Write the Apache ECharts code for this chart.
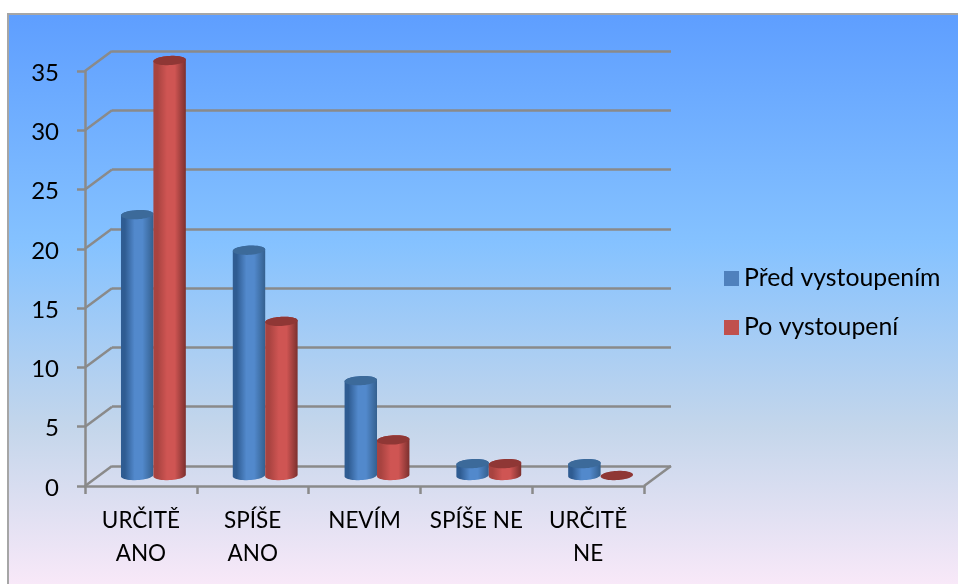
<!DOCTYPE html>
<html>
<head>
<meta charset="utf-8">
<style>html,body{margin:0;padding:0;background:#fff}#chart{width:958px;height:584px}</style>
<script src="https://cdn.jsdelivr.net/npm/echarts@6/dist/echarts.min.js"></script>
</head>
<body>
<div id="chart"></div>
<script>
// Survey answers before and after the talk
const categories = ['URČITĚ\nANO', 'SPÍŠE\nANO', 'NEVÍM', 'SPÍŠE NE', 'URČITĚ\nNE'];
const predVystoupenim = [22, 19, 8, 1, 1];
const poVystoupeni = [35, 13, 3, 1, 0];
const valueTicks = [0, 5, 10, 15, 20, 25, 30, 35];

// Oblique projection of the floor and back wall; cylinders stand mid-depth
const DEPTH_X = 27, DEPTH_Y = -20;
const CYL_DX = 12.5, CYL_DY = -10.5;
const AXIS_COLOR = '#8a8a8a';
const AXIS_WIDTH = 2.5;
const FONT = 'Lato';

const BLUE = { edgeL: '#2f5c92', mid: '#5289cc', edgeR: '#34608f', top: '#3c6a9a' };
const RED = { edgeL: '#a84340', mid: '#cf5553', edgeR: '#7c302e', top: '#8f3735' };

function cylinder(params, api, palette, side) {
  const i = api.value(0), v = api.value(1);
  const band = api.size([1, 0])[0];
  const w = band * 0.29, rx = w / 2, ry = 4.6, tilt = -0.05;
  const cx = api.coord([i, 0])[0] + side * rx + CYL_DX;
  const baseY = api.coord([i, 0])[1] + CYL_DY;
  const topY = api.coord([i, v])[1] + CYL_DY;
  const rim = (cy, a) => {
    const dx = rx * Math.cos(a);
    return [cx + dx, cy + ry * Math.sin(a) + dx * tilt];
  };
  const topPts = [], bodyPts = [];
  for (let k = 0; k <= 48; k++) topPts.push(rim(topY, (k / 48) * Math.PI * 2));
  // Front of the base runs right to left, then the far rim of the top closes the outline
  for (let k = 0; k <= 24; k++) bodyPts.push(rim(baseY, (k / 24) * Math.PI));
  for (let k = 0; k <= 24; k++) bodyPts.push(rim(topY, Math.PI + (k / 24) * Math.PI));
  const children = [];
  if (v > 0) {
    children.push({
      type: 'polygon',
      shape: { points: bodyPts },
      style: {
        fill: new echarts.graphic.LinearGradient(0, 0, 1, 0, [
          { offset: 0, color: palette.edgeL },
          { offset: 0.12, color: palette.edgeL },
          { offset: 0.42, color: palette.mid },
          { offset: 0.66, color: palette.mid },
          { offset: 1, color: palette.edgeR }
        ])
      }
    });
  }
  children.push({ type: 'polygon', shape: { points: topPts }, style: { fill: palette.top } });
  return { type: 'group', children };
}

// Slanted side-wall segments and the right edge of the floor
function wallLines(params, api) {
  const v = api.value(0);
  const p = api.coord([0, v]);
  const x0 = p[0] - api.size([1, 0])[0] / 2;
  const line = (x1, y1, x2, y2) => ({
    type: 'line',
    shape: { x1, y1, x2, y2 },
    style: { stroke: AXIS_COLOR, lineWidth: AXIS_WIDTH }
  });
  const children = [line(x0, p[1], x0 + DEPTH_X, p[1] + DEPTH_Y)];
  if (v === 0) {
    const x1 = x0 + api.size([1, 0])[0] * categories.length;
    children.push(line(x1, p[1], x1 + DEPTH_X, p[1] + DEPTH_Y));
  }
  return { type: 'group', children };
}

const chart = echarts.init(document.getElementById('chart'), null, { renderer: 'canvas' });
chart.setOption({
  animation: false,
  backgroundColor: '#ffffff',
  textStyle: { fontFamily: FONT },
  graphic: [{
    type: 'rect',
    z: -10,
    silent: true,
    shape: { x: 8, y: 14, width: 970, height: 590 },
    style: {
      fill: new echarts.graphic.LinearGradient(0, 0, 0, 1, [
        { offset: 0, color: '#5e9eff' },
        { offset: 0.39, color: '#85c2ff' },
        { offset: 0.7, color: '#c4d6eb' },
        { offset: 1, color: '#ffebfa' }
      ]),
      stroke: '#a6a6a6',
      lineWidth: 2
    }
  }],
  legend: {
    orient: 'vertical',
    left: 724,
    top: 266,
    padding: 0,
    icon: 'rect',
    itemWidth: 15,
    itemHeight: 15,
    itemGap: 24,
    textStyle: { fontFamily: FONT, fontSize: 24.8, color: '#000' },
    data: ['Před vystoupením', 'Po vystoupení']
  },
  grid: [
    { left: 85, top: 71, width: 559, height: 415 },
    { left: 85 + DEPTH_X, top: 71 + DEPTH_Y, width: 559, height: 415 }
  ],
  xAxis: [
    {
      type: 'category',
      gridIndex: 0,
      data: categories,
      axisLine: { lineStyle: { color: AXIS_COLOR, width: AXIS_WIDTH } },
      axisTick: { show: true, length: 8, lineStyle: { color: AXIS_COLOR, width: AXIS_WIDTH } },
      axisLabel: { interval: 0, color: '#000', fontSize: 22.5, lineHeight: 33, margin: 18, fontFamily: FONT }
    },
    {
      type: 'category',
      gridIndex: 1,
      data: categories,
      axisLine: { show: false },
      axisTick: { show: false },
      axisLabel: { show: false }
    }
  ],
  yAxis: [
    {
      type: 'value',
      gridIndex: 0,
      min: 0,
      max: 35,
      interval: 5,
      axisLine: { show: true, lineStyle: { color: AXIS_COLOR, width: AXIS_WIDTH } },
      axisTick: { show: true, length: 8, lineStyle: { color: AXIS_COLOR, width: AXIS_WIDTH } },
      axisLabel: {
        margin: 26,
        formatter: '{n|{value}}',
        rich: { n: { color: '#000', fontSize: 24, fontFamily: FONT, padding: [4, 0, 0, 0] } }
      },
      splitLine: { show: false }
    },
    {
      type: 'value',
      gridIndex: 1,
      min: 0,
      max: 35,
      interval: 5,
      axisLine: { show: false },
      axisTick: { show: false },
      axisLabel: { show: false },
      splitLine: { show: true, lineStyle: { color: AXIS_COLOR, width: AXIS_WIDTH } }
    }
  ],
  series: [
    {
      type: 'custom',
      name: 'walls',
      xAxisIndex: 0,
      yAxisIndex: 0,
      silent: true,
      clip: false,
      z: 1,
      encode: { y: 0 },
      data: valueTicks.map(v => [v]),
      renderItem: wallLines
    },
    {
      type: 'custom',
      name: 'Před vystoupením',
      xAxisIndex: 0,
      yAxisIndex: 0,
      z: 3,
      itemStyle: { color: '#4f81bd' },
      encode: { x: 0, y: 1 },
      data: predVystoupenim.map((v, i) => [i, v]),
      renderItem: (p, a) => cylinder(p, a, BLUE, -1)
    },
    {
      type: 'custom',
      name: 'Po vystoupení',
      xAxisIndex: 0,
      yAxisIndex: 0,
      z: 4,
      itemStyle: { color: '#c0504d' },
      encode: { x: 0, y: 1 },
      data: poVystoupeni.map((v, i) => [i, v]),
      renderItem: (p, a) => cylinder(p, a, RED, 1)
    }
  ]
});
</script>
</body>
</html>
